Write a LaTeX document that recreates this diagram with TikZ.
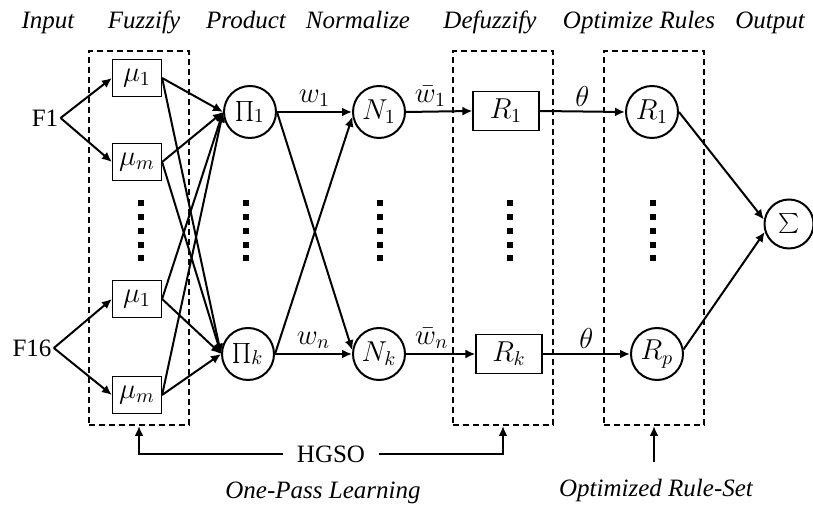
\documentclass[tikz,border=0pt]{standalone}
\usepackage{fontspec}
\setmainfont{Liberation Serif}
\usetikzlibrary{arrows.meta}

\begin{document}
\begin{tikzpicture}[x=0.5pt,y=-0.5pt,font=\fontsize{12.5}{14}\selectfont,
  >={Latex[length=5pt,width=4.5pt]},
  conn/.style={->,line width=1pt},
  mathfont/.style={font=\fontsize{14}{16}\selectfont},
  neuron/.style={circle,draw,line width=1pt,minimum size=26pt,inner sep=0pt,mathfont},
  mfbox/.style={rectangle,draw,line width=0.6pt,minimum width=24.5pt,minimum height=18.5pt,inner sep=0pt,mathfont},
  rulebox/.style={rectangle,draw,line width=0.6pt,minimum width=33pt,minimum height=19.5pt,inner sep=0pt,mathfont},
  layerbox/.style={rectangle,draw,dash pattern=on 3pt off 2pt,line width=1pt,minimum width=50pt,minimum height=187pt,inner sep=0pt},
  edgelab/.style={above,inner sep=2pt,mathfont},
  head/.style={anchor=base,font=\fontsize{12.5}{14}\selectfont\itshape}]
\useasboundingbox (0,0) rectangle (813,506);

% layer titles
\node[head] (tin) at (48,29) {Input};
\node[head] (tfuz) at (144,29) {Fuzzify};
\node[head] (tprod) at (246,29) {Product};
\node[head] (tnorm) at (358,29) {Normalize};
\node[head] (tdef) at (490,29) {Defuzzify};
\node[head] (topt) at (639,29) {Optimize Rules};
\node[head] (tout) at (770,29) {Output};

% dashed layers
\node[layerbox] (fuzbox) at (139,238) {};
\node[layerbox] (defbox) at (503,238) {};
\node[layerbox] (optbox) at (654,238) {};

% inputs
\node[inner sep=1pt] (fa) at (45,118) {F1};
\node[inner sep=1pt] (fb) at (32,348) {F16};

% membership functions
\node[mfbox] (mutop1) at (137,78) {$\mu_1$};
\node[mfbox] (mutopm) at (137,162) {$\mu_m$};
\node[mfbox] (mubot1) at (137,299) {$\mu_1$};
\node[mfbox] (mubotm) at (137,395) {$\mu_m$};

% product, normalize
\node[neuron] (prod1) at (250,112) {$\prod_1$};
\node[neuron] (prodk) at (248,354) {$\prod_k$};
\node[neuron] (norm1) at (379,112) {$N_1$};
\node[neuron] (normk) at (379,354) {$N_k$};

% defuzzify, rules, output
\node[rulebox] (defuz1) at (506,111) {$R_1$};
\node[rulebox] (defuzk) at (509,354) {$R_k$};
\node[neuron] (rule1) at (652,112) {$R_1$};
\node[neuron] (rulep) at (657,354) {$R_p$};
\node[neuron,minimum size=24.5pt] (sum) at (789,224) {$\sum$};

% dots
\foreach \dx in {141,246,380,510,653}
  \foreach \dy in {203,217,231,245,258}
    \fill (\dx-3,\dy-3) rectangle (\dx+3,\dy+3);

\draw[conn] (fa.east) -- (mutop1.west);
\draw[conn] (fa.east) -- (mutopm.west);
\draw[conn] (fb.east) -- (mubot1.west);
\draw[conn] (fb.east) -- (mubotm.west);

\foreach \m in {mutop1,mutopm,mubot1,mubotm}
  \foreach \p in {prod1,prodk}
    \draw[conn] (\m.east) -- (\p.west);

\draw[conn] (prod1.east) -- node[edgelab] (lw1) {$w_1$} (norm1.west);
\draw[conn] (prodk.east) -- node[edgelab] (lwn) {$w_n$} (normk.west);
\draw[conn] (prod1.east) -- (normk.172);
\draw[conn] (prodk.east) -- (norm1.190);

\draw[conn] (norm1.east) -- node[edgelab,pos=0.37] (lwb1) {$\bar{w}_1$} (defuz1.west);
\draw[conn] (normk.east) -- node[edgelab,pos=0.37] (lwbn) {$\bar{w}_n$} (defuzk.west);
\draw[conn] (defuz1.east) -- node[edgelab] (lth1) {$\theta$} (rule1.west);
\draw[conn] (defuzk.east) -- node[edgelab] (lth2) {$\theta$} (rulep.west);

\draw[conn] (rule1.east) -- (sum.170);
\draw[conn] (rulep.10) -- (sum.198);

% learning
\node[inner sep=7pt] (hgso) at (331,454) {HGSO};
\draw[conn] (hgso.west) -| (fuzbox.south);
\draw[conn] (hgso.east) -| (defbox.south);
\node[head] (lone) at (323,499) {One-Pass Learning};
\node[head] (lopt) at (656,497) {Optimized Rule-Set};
\coordinate (optfoot) at (654,462);
\draw[conn] (optfoot) -- (optbox.south);
\end{tikzpicture}
\end{document}
